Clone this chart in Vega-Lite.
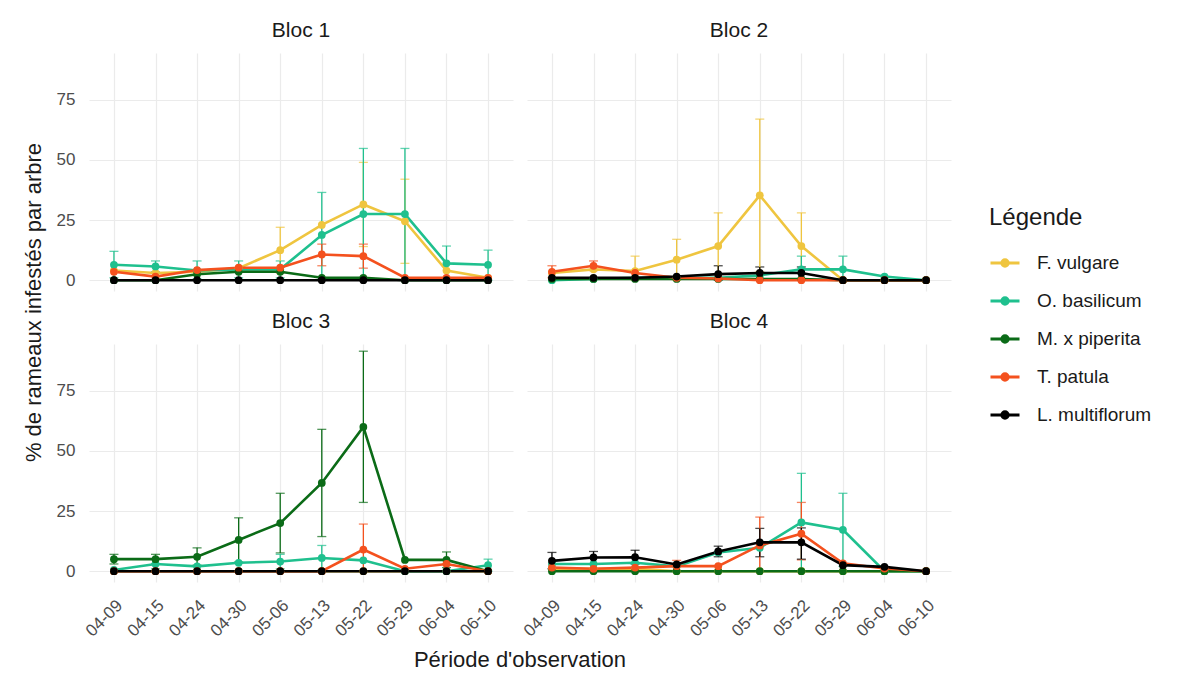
{
  "$schema": "https://vega.github.io/schema/vega-lite/v6.json",
  "background": "white",
  "padding": {"left": 23, "top": 20, "right": 10, "bottom": 10},
  "title": {"text": "% de rameaux infestés par arbre", "orient": "left", "anchor": "middle", "fontSize": 22, "fontWeight": "normal", "color": "#1A1A1A", "font": "Liberation Sans", "offset": 10, "dx": 43},
  "config": {
    "font": "Liberation Sans",
    "view": {"stroke": null},
    "axis": {"domain": false, "ticks": false, "gridColor": "#EBEBEB", "gridWidth": 1.2, "labelColor": "#4D4D4D", "labelFont": "Liberation Sans", "titleFont": "Liberation Sans", "titleFontWeight": "normal", "titleColor": "#1A1A1A", "titleFontSize": 22, "labelFontSize": 17}
  },
  "data": {"values": [
    {"b":"Bloc 1","d":"04-09","s":"F. vulgare","v":4},
    {"b":"Bloc 1","d":"04-15","s":"F. vulgare","v":3},
    {"b":"Bloc 1","d":"04-24","s":"F. vulgare","v":3.5},
    {"b":"Bloc 1","d":"04-30","s":"F. vulgare","v":5},
    {"b":"Bloc 1","d":"05-06","s":"F. vulgare","v":12.5,"lo":3,"hi":22},
    {"b":"Bloc 1","d":"05-13","s":"F. vulgare","v":23},
    {"b":"Bloc 1","d":"05-22","s":"F. vulgare","v":31.5,"lo":14,"hi":49},
    {"b":"Bloc 1","d":"05-29","s":"F. vulgare","v":24.5,"lo":7,"hi":42},
    {"b":"Bloc 1","d":"06-04","s":"F. vulgare","v":4},
    {"b":"Bloc 1","d":"06-10","s":"F. vulgare","v":1},
    {"b":"Bloc 1","d":"04-09","s":"O. basilicum","v":6.4,"lo":1,"hi":12},
    {"b":"Bloc 1","d":"04-15","s":"O. basilicum","v":5.7,"lo":3.5,"hi":8},
    {"b":"Bloc 1","d":"04-24","s":"O. basilicum","v":4,"lo":0.5,"hi":8},
    {"b":"Bloc 1","d":"04-30","s":"O. basilicum","v":4.5,"lo":1,"hi":8},
    {"b":"Bloc 1","d":"05-06","s":"O. basilicum","v":4.5,"lo":1,"hi":8},
    {"b":"Bloc 1","d":"05-13","s":"O. basilicum","v":18.8,"lo":1,"hi":36.5},
    {"b":"Bloc 1","d":"05-22","s":"O. basilicum","v":27.5,"lo":0.2,"hi":54.8},
    {"b":"Bloc 1","d":"05-29","s":"O. basilicum","v":27.5,"lo":0.2,"hi":54.8},
    {"b":"Bloc 1","d":"06-04","s":"O. basilicum","v":7,"lo":0,"hi":14.2},
    {"b":"Bloc 1","d":"06-10","s":"O. basilicum","v":6.4,"lo":0,"hi":12.5},
    {"b":"Bloc 1","d":"04-09","s":"M. x piperita","v":0},
    {"b":"Bloc 1","d":"04-15","s":"M. x piperita","v":0},
    {"b":"Bloc 1","d":"04-24","s":"M. x piperita","v":2.5},
    {"b":"Bloc 1","d":"04-30","s":"M. x piperita","v":3.5},
    {"b":"Bloc 1","d":"05-06","s":"M. x piperita","v":3.5},
    {"b":"Bloc 1","d":"05-13","s":"M. x piperita","v":1},
    {"b":"Bloc 1","d":"05-22","s":"M. x piperita","v":1},
    {"b":"Bloc 1","d":"05-29","s":"M. x piperita","v":0},
    {"b":"Bloc 1","d":"06-04","s":"M. x piperita","v":0},
    {"b":"Bloc 1","d":"06-10","s":"M. x piperita","v":0},
    {"b":"Bloc 1","d":"04-09","s":"T. patula","v":3.5},
    {"b":"Bloc 1","d":"04-15","s":"T. patula","v":1.5},
    {"b":"Bloc 1","d":"04-24","s":"T. patula","v":4.2},
    {"b":"Bloc 1","d":"04-30","s":"T. patula","v":5.2},
    {"b":"Bloc 1","d":"05-06","s":"T. patula","v":5.2},
    {"b":"Bloc 1","d":"05-13","s":"T. patula","v":10.7,"lo":6,"hi":15},
    {"b":"Bloc 1","d":"05-22","s":"T. patula","v":10,"lo":5,"hi":15},
    {"b":"Bloc 1","d":"05-29","s":"T. patula","v":1},
    {"b":"Bloc 1","d":"06-04","s":"T. patula","v":1},
    {"b":"Bloc 1","d":"06-10","s":"T. patula","v":1},
    {"b":"Bloc 1","d":"04-09","s":"L. multiflorum","v":0},
    {"b":"Bloc 1","d":"04-15","s":"L. multiflorum","v":0},
    {"b":"Bloc 1","d":"04-24","s":"L. multiflorum","v":0},
    {"b":"Bloc 1","d":"04-30","s":"L. multiflorum","v":0},
    {"b":"Bloc 1","d":"05-06","s":"L. multiflorum","v":0},
    {"b":"Bloc 1","d":"05-13","s":"L. multiflorum","v":0},
    {"b":"Bloc 1","d":"05-22","s":"L. multiflorum","v":0},
    {"b":"Bloc 1","d":"05-29","s":"L. multiflorum","v":0},
    {"b":"Bloc 1","d":"06-04","s":"L. multiflorum","v":0},
    {"b":"Bloc 1","d":"06-10","s":"L. multiflorum","v":0},

    {"b":"Bloc 2","d":"04-09","s":"F. vulgare","v":3},
    {"b":"Bloc 2","d":"04-15","s":"F. vulgare","v":4.5},
    {"b":"Bloc 2","d":"04-24","s":"F. vulgare","v":3.8,"lo":0,"hi":10},
    {"b":"Bloc 2","d":"04-30","s":"F. vulgare","v":8.5,"lo":0,"hi":17},
    {"b":"Bloc 2","d":"05-06","s":"F. vulgare","v":14.2,"lo":0.5,"hi":28},
    {"b":"Bloc 2","d":"05-13","s":"F. vulgare","v":35.3,"lo":3.5,"hi":67},
    {"b":"Bloc 2","d":"05-22","s":"F. vulgare","v":14.2,"lo":0.5,"hi":28},
    {"b":"Bloc 2","d":"05-29","s":"F. vulgare","v":0},
    {"b":"Bloc 2","d":"06-04","s":"F. vulgare","v":0},
    {"b":"Bloc 2","d":"06-10","s":"F. vulgare","v":0},
    {"b":"Bloc 2","d":"04-09","s":"O. basilicum","v":0},
    {"b":"Bloc 2","d":"04-15","s":"O. basilicum","v":0.5},
    {"b":"Bloc 2","d":"04-24","s":"O. basilicum","v":1},
    {"b":"Bloc 2","d":"04-30","s":"O. basilicum","v":1},
    {"b":"Bloc 2","d":"05-06","s":"O. basilicum","v":1},
    {"b":"Bloc 2","d":"05-13","s":"O. basilicum","v":2},
    {"b":"Bloc 2","d":"05-22","s":"O. basilicum","v":4.5,"lo":0,"hi":10},
    {"b":"Bloc 2","d":"05-29","s":"O. basilicum","v":4.5,"lo":0,"hi":10},
    {"b":"Bloc 2","d":"06-04","s":"O. basilicum","v":1.5},
    {"b":"Bloc 2","d":"06-10","s":"O. basilicum","v":0},
    {"b":"Bloc 2","d":"04-09","s":"M. x piperita","v":0.5},
    {"b":"Bloc 2","d":"04-15","s":"M. x piperita","v":0.5},
    {"b":"Bloc 2","d":"04-24","s":"M. x piperita","v":0.5},
    {"b":"Bloc 2","d":"04-30","s":"M. x piperita","v":0.5},
    {"b":"Bloc 2","d":"05-06","s":"M. x piperita","v":0.5},
    {"b":"Bloc 2","d":"05-13","s":"M. x piperita","v":0.5},
    {"b":"Bloc 2","d":"05-22","s":"M. x piperita","v":0.5},
    {"b":"Bloc 2","d":"05-29","s":"M. x piperita","v":0},
    {"b":"Bloc 2","d":"06-04","s":"M. x piperita","v":0},
    {"b":"Bloc 2","d":"06-10","s":"M. x piperita","v":0},
    {"b":"Bloc 2","d":"04-09","s":"T. patula","v":3.5,"lo":1,"hi":6},
    {"b":"Bloc 2","d":"04-15","s":"T. patula","v":6,"lo":4,"hi":8},
    {"b":"Bloc 2","d":"04-24","s":"T. patula","v":3},
    {"b":"Bloc 2","d":"04-30","s":"T. patula","v":1},
    {"b":"Bloc 2","d":"05-06","s":"T. patula","v":0.7},
    {"b":"Bloc 2","d":"05-13","s":"T. patula","v":0},
    {"b":"Bloc 2","d":"05-22","s":"T. patula","v":0},
    {"b":"Bloc 2","d":"05-29","s":"T. patula","v":0},
    {"b":"Bloc 2","d":"06-04","s":"T. patula","v":0},
    {"b":"Bloc 2","d":"06-10","s":"T. patula","v":0},
    {"b":"Bloc 2","d":"04-09","s":"L. multiflorum","v":1},
    {"b":"Bloc 2","d":"04-15","s":"L. multiflorum","v":1},
    {"b":"Bloc 2","d":"04-24","s":"L. multiflorum","v":1},
    {"b":"Bloc 2","d":"04-30","s":"L. multiflorum","v":1.5},
    {"b":"Bloc 2","d":"05-06","s":"L. multiflorum","v":2.5,"lo":0,"hi":6},
    {"b":"Bloc 2","d":"05-13","s":"L. multiflorum","v":3,"lo":0.5,"hi":5.5},
    {"b":"Bloc 2","d":"05-22","s":"L. multiflorum","v":3,"lo":0.5,"hi":5.5},
    {"b":"Bloc 2","d":"05-29","s":"L. multiflorum","v":0},
    {"b":"Bloc 2","d":"06-04","s":"L. multiflorum","v":0},
    {"b":"Bloc 2","d":"06-10","s":"L. multiflorum","v":0},

    {"b":"Bloc 3","d":"04-09","s":"F. vulgare","v":0},
    {"b":"Bloc 3","d":"04-15","s":"F. vulgare","v":0},
    {"b":"Bloc 3","d":"04-24","s":"F. vulgare","v":0},
    {"b":"Bloc 3","d":"04-30","s":"F. vulgare","v":0},
    {"b":"Bloc 3","d":"05-06","s":"F. vulgare","v":0},
    {"b":"Bloc 3","d":"05-13","s":"F. vulgare","v":0},
    {"b":"Bloc 3","d":"05-22","s":"F. vulgare","v":0},
    {"b":"Bloc 3","d":"05-29","s":"F. vulgare","v":0},
    {"b":"Bloc 3","d":"06-04","s":"F. vulgare","v":0},
    {"b":"Bloc 3","d":"06-10","s":"F. vulgare","v":0},
    {"b":"Bloc 3","d":"04-09","s":"O. basilicum","v":0.5},
    {"b":"Bloc 3","d":"04-15","s":"O. basilicum","v":3,"lo":1,"hi":5},
    {"b":"Bloc 3","d":"04-24","s":"O. basilicum","v":2},
    {"b":"Bloc 3","d":"04-30","s":"O. basilicum","v":3.5},
    {"b":"Bloc 3","d":"05-06","s":"O. basilicum","v":4,"lo":1,"hi":7},
    {"b":"Bloc 3","d":"05-13","s":"O. basilicum","v":5.5,"lo":0.5,"hi":10.7},
    {"b":"Bloc 3","d":"05-22","s":"O. basilicum","v":4.5},
    {"b":"Bloc 3","d":"05-29","s":"O. basilicum","v":0},
    {"b":"Bloc 3","d":"06-04","s":"O. basilicum","v":0},
    {"b":"Bloc 3","d":"06-10","s":"O. basilicum","v":2.5,"lo":0,"hi":5},
    {"b":"Bloc 3","d":"04-09","s":"M. x piperita","v":5,"lo":3,"hi":7},
    {"b":"Bloc 3","d":"04-15","s":"M. x piperita","v":5,"lo":3,"hi":7},
    {"b":"Bloc 3","d":"04-24","s":"M. x piperita","v":6,"lo":2.5,"hi":9.7},
    {"b":"Bloc 3","d":"04-30","s":"M. x piperita","v":13,"lo":3.8,"hi":22.2},
    {"b":"Bloc 3","d":"05-06","s":"M. x piperita","v":20,"lo":7.6,"hi":32.4},
    {"b":"Bloc 3","d":"05-13","s":"M. x piperita","v":36.7,"lo":14.4,"hi":59},
    {"b":"Bloc 3","d":"05-22","s":"M. x piperita","v":60,"lo":28.6,"hi":91.5},
    {"b":"Bloc 3","d":"05-29","s":"M. x piperita","v":4.7},
    {"b":"Bloc 3","d":"06-04","s":"M. x piperita","v":4.7,"lo":1.5,"hi":8},
    {"b":"Bloc 3","d":"06-10","s":"M. x piperita","v":0},
    {"b":"Bloc 3","d":"04-09","s":"T. patula","v":0},
    {"b":"Bloc 3","d":"04-15","s":"T. patula","v":0},
    {"b":"Bloc 3","d":"04-24","s":"T. patula","v":0},
    {"b":"Bloc 3","d":"04-30","s":"T. patula","v":0},
    {"b":"Bloc 3","d":"05-06","s":"T. patula","v":0},
    {"b":"Bloc 3","d":"05-13","s":"T. patula","v":0},
    {"b":"Bloc 3","d":"05-22","s":"T. patula","v":9,"lo":0,"hi":19.6},
    {"b":"Bloc 3","d":"05-29","s":"T. patula","v":1},
    {"b":"Bloc 3","d":"06-04","s":"T. patula","v":3},
    {"b":"Bloc 3","d":"06-10","s":"T. patula","v":0},
    {"b":"Bloc 3","d":"04-09","s":"L. multiflorum","v":0},
    {"b":"Bloc 3","d":"04-15","s":"L. multiflorum","v":0},
    {"b":"Bloc 3","d":"04-24","s":"L. multiflorum","v":0},
    {"b":"Bloc 3","d":"04-30","s":"L. multiflorum","v":0},
    {"b":"Bloc 3","d":"05-06","s":"L. multiflorum","v":0},
    {"b":"Bloc 3","d":"05-13","s":"L. multiflorum","v":0},
    {"b":"Bloc 3","d":"05-22","s":"L. multiflorum","v":0},
    {"b":"Bloc 3","d":"05-29","s":"L. multiflorum","v":0},
    {"b":"Bloc 3","d":"06-04","s":"L. multiflorum","v":0},
    {"b":"Bloc 3","d":"06-10","s":"L. multiflorum","v":0},

    {"b":"Bloc 4","d":"04-09","s":"F. vulgare","v":1},
    {"b":"Bloc 4","d":"04-15","s":"F. vulgare","v":1},
    {"b":"Bloc 4","d":"04-24","s":"F. vulgare","v":1},
    {"b":"Bloc 4","d":"04-30","s":"F. vulgare","v":0},
    {"b":"Bloc 4","d":"05-06","s":"F. vulgare","v":0},
    {"b":"Bloc 4","d":"05-13","s":"F. vulgare","v":0},
    {"b":"Bloc 4","d":"05-22","s":"F. vulgare","v":0},
    {"b":"Bloc 4","d":"05-29","s":"F. vulgare","v":0},
    {"b":"Bloc 4","d":"06-04","s":"F. vulgare","v":0},
    {"b":"Bloc 4","d":"06-10","s":"F. vulgare","v":0},
    {"b":"Bloc 4","d":"04-09","s":"O. basilicum","v":3},
    {"b":"Bloc 4","d":"04-15","s":"O. basilicum","v":3},
    {"b":"Bloc 4","d":"04-24","s":"O. basilicum","v":3.5},
    {"b":"Bloc 4","d":"04-30","s":"O. basilicum","v":2},
    {"b":"Bloc 4","d":"05-06","s":"O. basilicum","v":7.8},
    {"b":"Bloc 4","d":"05-13","s":"O. basilicum","v":9.7},
    {"b":"Bloc 4","d":"05-22","s":"O. basilicum","v":20.3,"lo":0,"hi":40.7},
    {"b":"Bloc 4","d":"05-29","s":"O. basilicum","v":17.2,"lo":2,"hi":32.4},
    {"b":"Bloc 4","d":"06-04","s":"O. basilicum","v":0},
    {"b":"Bloc 4","d":"06-10","s":"O. basilicum","v":0},
    {"b":"Bloc 4","d":"04-09","s":"M. x piperita","v":0},
    {"b":"Bloc 4","d":"04-15","s":"M. x piperita","v":0},
    {"b":"Bloc 4","d":"04-24","s":"M. x piperita","v":0},
    {"b":"Bloc 4","d":"04-30","s":"M. x piperita","v":0},
    {"b":"Bloc 4","d":"05-06","s":"M. x piperita","v":0},
    {"b":"Bloc 4","d":"05-13","s":"M. x piperita","v":0},
    {"b":"Bloc 4","d":"05-22","s":"M. x piperita","v":0},
    {"b":"Bloc 4","d":"05-29","s":"M. x piperita","v":0},
    {"b":"Bloc 4","d":"06-04","s":"M. x piperita","v":0},
    {"b":"Bloc 4","d":"06-10","s":"M. x piperita","v":0},
    {"b":"Bloc 4","d":"04-09","s":"T. patula","v":1.5},
    {"b":"Bloc 4","d":"04-15","s":"T. patula","v":1},
    {"b":"Bloc 4","d":"04-24","s":"T. patula","v":1.5},
    {"b":"Bloc 4","d":"04-30","s":"T. patula","v":2.1,"lo":0,"hi":4.5},
    {"b":"Bloc 4","d":"05-06","s":"T. patula","v":2.1},
    {"b":"Bloc 4","d":"05-13","s":"T. patula","v":10.7,"lo":0,"hi":22.5},
    {"b":"Bloc 4","d":"05-22","s":"T. patula","v":15.6,"lo":4.7,"hi":28.6},
    {"b":"Bloc 4","d":"05-29","s":"T. patula","v":3.3},
    {"b":"Bloc 4","d":"06-04","s":"T. patula","v":1.1},
    {"b":"Bloc 4","d":"06-10","s":"T. patula","v":0},
    {"b":"Bloc 4","d":"04-09","s":"L. multiflorum","v":4.3,"lo":1,"hi":7.8},
    {"b":"Bloc 4","d":"04-15","s":"L. multiflorum","v":5.7,"lo":3,"hi":8.2},
    {"b":"Bloc 4","d":"04-24","s":"L. multiflorum","v":5.8,"lo":3,"hi":8.7},
    {"b":"Bloc 4","d":"04-30","s":"L. multiflorum","v":2.8},
    {"b":"Bloc 4","d":"05-06","s":"L. multiflorum","v":8.2,"lo":6,"hi":10.4},
    {"b":"Bloc 4","d":"05-13","s":"L. multiflorum","v":12,"lo":6,"hi":17.8},
    {"b":"Bloc 4","d":"05-22","s":"L. multiflorum","v":12,"lo":5,"hi":18},
    {"b":"Bloc 4","d":"05-29","s":"L. multiflorum","v":2.5},
    {"b":"Bloc 4","d":"06-04","s":"L. multiflorum","v":1.8},
    {"b":"Bloc 4","d":"06-10","s":"L. multiflorum","v":0}
  ]},
  "facet": {"field": "b", "type": "nominal", "header": {"title": "Période d'observation", "titleOrient": "bottom", "titleFontSize": 22, "titleFontWeight": "normal", "titleColor": "#1A1A1A", "titleFont": "Liberation Sans", "titlePadding": 10, "labelFontSize": 21, "labelFont": "Liberation Sans", "labelColor": "#1A1A1A", "labelPadding": 12}},
  "columns": 2,
  "spacing": {"column": 14, "row": 20},
  "spec": {
    "width": 424,
    "height": 238,
    "encoding": {
      "x": {"field": "d", "type": "ordinal", "scale": {"type": "point", "padding": 0.6}, "title": null,
        "axis": {"grid": true, "labelAngle": -45, "labelAlign": "center", "labelBaseline": "middle", "labelPadding": 36, "labelOffset": -10}},
      "color": {"field": "s", "type": "nominal", "sort": ["F. vulgare", "O. basilicum", "M. x piperita", "T. patula", "L. multiflorum"],
        "scale": {"domain": ["F. vulgare", "O. basilicum", "M. x piperita", "T. patula", "L. multiflorum"], "range": ["#EFC53F", "#1FC08E", "#0B6B17", "#F4511E", "#000000"]},
        "legend": {"title": "Légende", "titleFontSize": 24, "titleFontWeight": "normal", "titleColor": "#1A1A1A", "labelFontSize": 19, "labelColor": "#1A1A1A", "symbolType": "M-1,0H1M-0.22,0A0.22,0.22 0 1,0 0.22,0A0.22,0.22 0 1,0 -0.22,0", "symbolStrokeWidth": 3, "symbolSize": 841, "rowPadding": 12, "labelOffset": 16, "titlePadding": 17, "orient": "none", "legendX": 900, "legendY": 153,
          "encode": {"symbols": {"update": {"fill": {"scale": "color", "field": "value"}, "stroke": {"scale": "color", "field": "value"}}}}}}
    },
    "layer": [
      {
        "transform": [{"filter": "isValid(datum.hi)"}],
        "mark": {"type": "errorbar", "thickness": 1.3, "ticks": {"size": 9, "thickness": 1.3}},
        "encoding": {
          "y": {"field": "lo", "type": "quantitative", "title": null, "scale": {"domain": [-4.5, 94.5], "nice": false, "zero": false}},
          "y2": {"field": "hi"}
        }
      },
      {
        "mark": {"type": "line", "strokeWidth": 2.6},
        "encoding": {
          "y": {"field": "v", "type": "quantitative", "title": null,
            "scale": {"domain": [-4.5, 94.5], "nice": false, "zero": false},
            "axis": {"values": [0, 12.5, 25, 37.5, 50, 62.5, 75, 87.5], "labelExpr": "datum.value % 25 == 0 ? datum.label : ''", "labelPadding": 14}}
        }
      },
      {
        "mark": {"type": "point", "filled": true, "size": 60, "opacity": 1},
        "encoding": {"y": {"field": "v", "type": "quantitative"}}
      }
    ]
  }
}
